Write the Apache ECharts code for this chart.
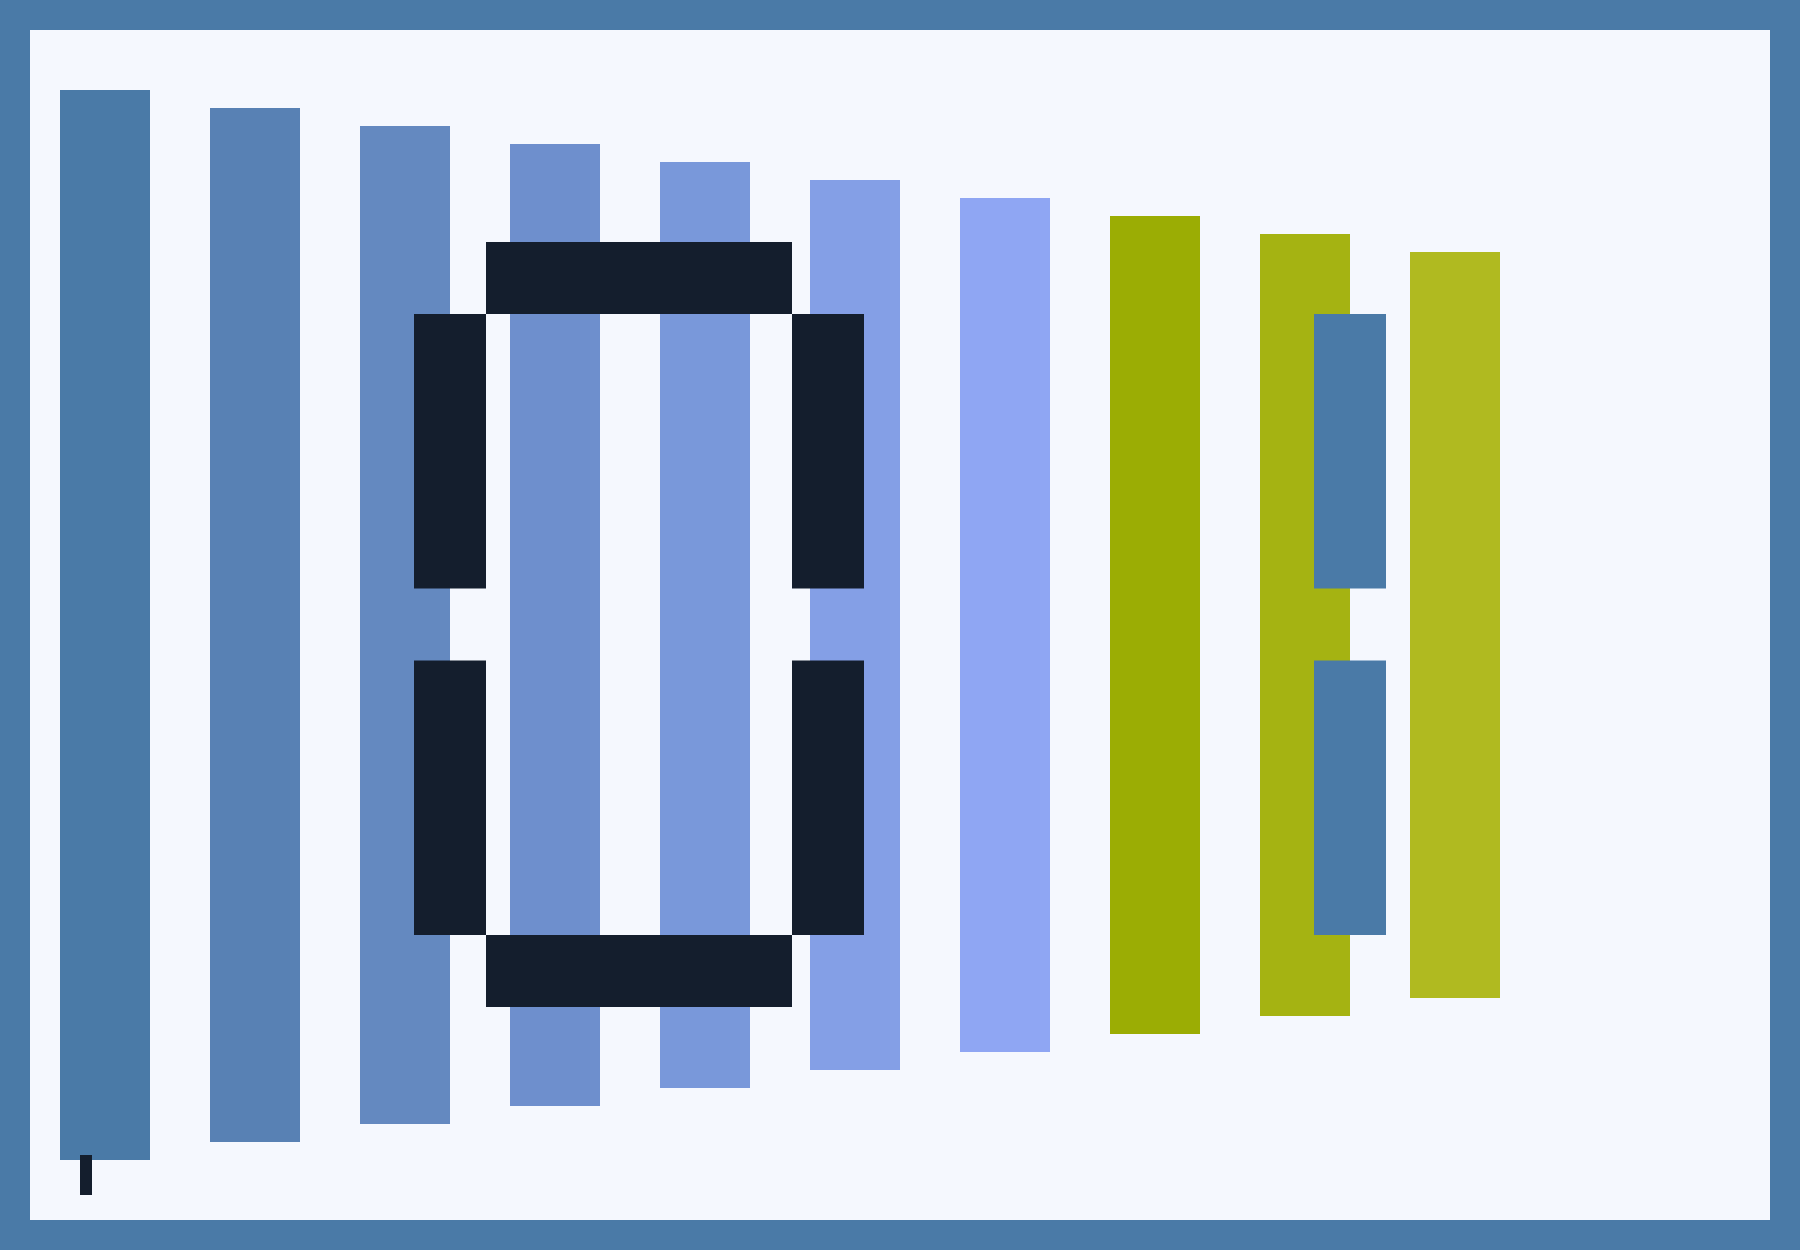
<!DOCTYPE html>
<html>
<head>
<meta charset="utf-8">
<style>
  html, body { margin: 0; padding: 0; background: #4a7aa7; }
  #main { width: 1800px; height: 1250px; }
</style>
<script src="https://cdn.jsdelivr.net/npm/echarts@6/dist/echarts.min.js"></script>
</head>
<body>
<div id="main"></div>
<script>
var categories = ['1', '2', '3', '4', '5', '6', '7', '8', '9', '10'];
var barLow = [60, 78, 96, 114, 132, 150, 168, 186, 204, 222];
var barHigh = [1130, 1112, 1094, 1076, 1058, 1040, 1022, 1004, 986, 968];
var barColors = ['#4a7aa7', '#5881b4', '#6489c0', '#6e8fcd', '#7998da',
  '#849fe6', '#8fa6f3', '#9bad04', '#a5b312', '#b0ba20'];

// seven segment digits drawn over the bars
var digitText = ['0', '1'];
var digitLeft = [384, 906];
var digitTop = [978, 978];
var digitColors = ['#141e2d', '#4a7aa7'];

// small cursor mark, bottom left
var cursorPoint = [[56, 45]];

var SEG = 72, DIGIT_W = 450, SEG_V = 274.5;
var segMap = {
  '0': 'abcdef', '1': 'bc', '2': 'abdeg', '3': 'abcdg', '4': 'bcfg',
  '5': 'acdfg', '6': 'acdefg', '7': 'abc', '8': 'abcdefg', '9': 'abcdfg'
};
var segRects = {
  a: [SEG, 0, DIGIT_W - 2 * SEG, SEG],
  b: [DIGIT_W - SEG, SEG, SEG, SEG_V],
  c: [DIGIT_W - SEG, 2 * SEG + SEG_V, SEG, SEG_V],
  d: [SEG, 2 * SEG + 2 * SEG_V, DIGIT_W - 2 * SEG, SEG],
  e: [0, 2 * SEG + SEG_V, SEG, SEG_V],
  f: [0, SEG, SEG, SEG_V],
  g: [SEG, SEG + SEG_V, DIGIT_W - 2 * SEG, SEG]
};

var chartDom = document.getElementById('main');
var myChart = echarts.init(chartDom);
var option;

function renderDigit(params, api) {
  var x0 = api.value(0);
  var y0 = api.value(1);
  var segs = segMap[digitText[params.dataIndex]] || '';
  var children = [];
  for (var i = 0; i < segs.length; i++) {
    var r = segRects[segs[i]];
    var p1 = api.coord([x0 + r[0], y0 - r[1]]);
    var p2 = api.coord([x0 + r[0] + r[2], y0 - r[1] - r[3]]);
    children.push({
      type: 'rect',
      shape: { x: p1[0], y: p1[1], width: p2[0] - p1[0], height: p2[1] - p1[1] },
      style: { fill: digitColors[params.dataIndex] }
    });
  }
  return { type: 'group', children: children };
}

option = {
  backgroundColor: '#4a7aa7',
  animation: false,
  graphic: [
    {
      type: 'rect',
      z: -10,
      shape: { x: 30, y: 30, width: 1740, height: 1190 },
      style: { fill: '#f5f8fe' }
    }
  ],
  grid: {
    left: 30,
    top: 30,
    width: 1500,
    height: 1190
  },
  xAxis: [
    {
      type: 'category',
      data: categories,
      show: false
    },
    {
      type: 'value',
      min: 0,
      max: 1500,
      show: false
    }
  ],
  yAxis: {
    type: 'value',
    min: 0,
    max: 1190,
    show: false
  },
  series: [
    {
      type: 'bar',
      stack: 'range',
      barWidth: '60%',
      silent: true,
      itemStyle: { color: 'transparent' },
      data: barLow
    },
    {
      type: 'bar',
      stack: 'range',
      barWidth: '60%',
      data: barHigh.map(function (h, i) {
        return { value: h - barLow[i], itemStyle: { color: barColors[i] } };
      })
    },
    {
      type: 'custom',
      xAxisIndex: 1,
      yAxisIndex: 0,
      z: 3,
      renderItem: renderDigit,
      data: digitText.map(function (d, i) {
        return [digitLeft[i], digitTop[i]];
      })
    },
    {
      type: 'scatter',
      xAxisIndex: 1,
      yAxisIndex: 0,
      symbol: 'rect',
      symbolSize: [12, 40],
      itemStyle: { color: '#141e2d', opacity: 1 },
      z: 3,
      data: cursorPoint
    }
  ]
};

option && myChart.setOption(option);
</script>
</body>
</html>
